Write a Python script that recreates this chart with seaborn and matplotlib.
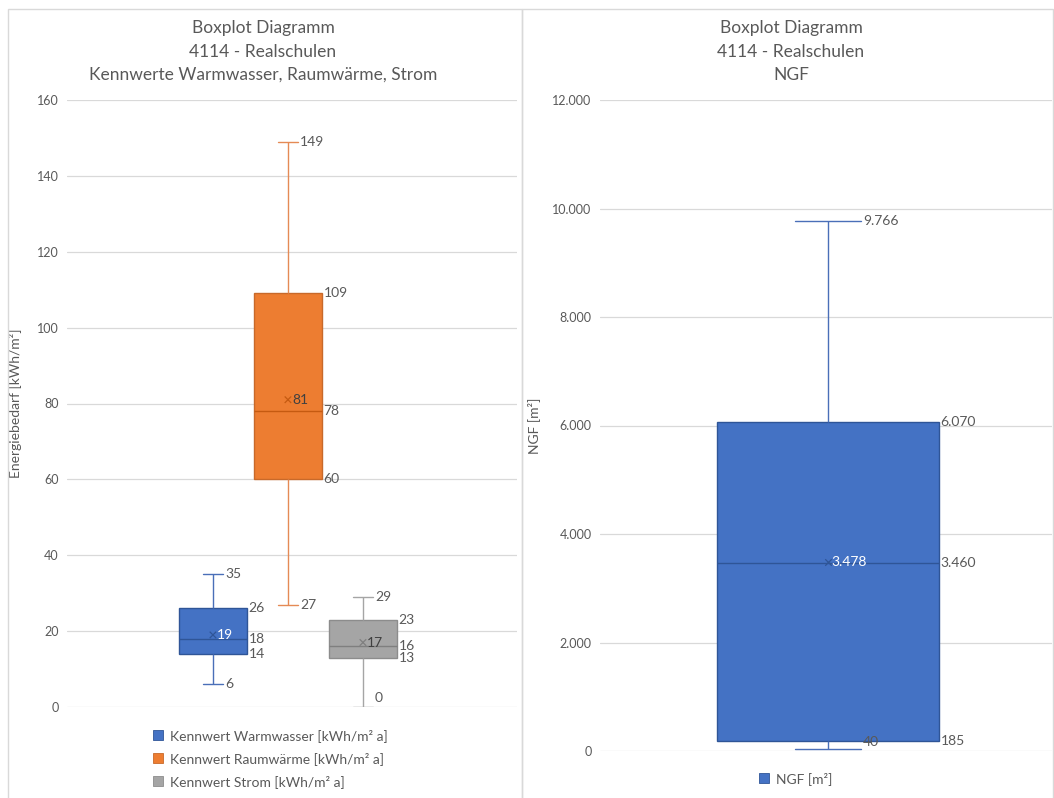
import numpy as np
import pandas as pd
import matplotlib
matplotlib.use("Agg")
import matplotlib.pyplot as plt
import seaborn as sns
from matplotlib.patches import Rectangle
from matplotlib.lines import Line2D

# Kennwerte Warmwasser, Raumwärme, Strom [kWh/m² a]
series = ["Kennwert Warmwasser [kWh/m² a]",
          "Kennwert Raumwärme [kWh/m² a]",
          "Kennwert Strom [kWh/m² a]"]
minimum = [6, 27, 0]
q1 = [14, 60, 13]
median = [18, 78, 16]
q3 = [26, 109, 23]
maximum = [35, 149, 29]
mean = [19, 81, 17]

# Nettogrundfläche [m²]
ngf_series = ["NGF [m²]"]
ngf_min = [40]
ngf_q1 = [185]
ngf_median = [3460]
ngf_q3 = [6070]
ngf_max = [9766]
ngf_mean = [3478]

left_ticks = [0, 20, 40, 60, 80, 100, 120, 140, 160]
right_ticks = [0, 2000, 4000, 6000, 8000, 10000, 12000]

# styling
fills = ["#4472C4", "#ED7D31", "#A5A5A5"]
edges = ["#2F5597", "#C8692A", "#8C8C8C"]
whisker_cols = ["#4A6FB8", "#E58A55", "#A5A5A5"]
median_cols = ["#2F5597", "#C55A11", "#7F7F7F"]
mean_label_cols = ["white", "#404040", "#404040"]
TXT = "#595959"
GRID = "#D9D9D9"
FONT = ["Lato", "DejaVu Sans"]

sns.set_theme(style="white")
plt.rcParams["font.family"] = FONT
plt.rcParams["text.color"] = TXT

W, H = 1054, 798
fig = plt.figure(figsize=(W / 100, H / 100), dpi=100)


def fx(px):
    return px / W


def fy(py):
    return 1 - py / H


def fmt_de(v):
    return f"{v:,.0f}".replace(",", ".")


def five_number_frame(names, mins, lo, med, hi, maxs):
    rows = []
    for name, a, b, c, d, e in zip(names, mins, lo, med, hi, maxs):
        for v in (a, b, c, d, e):
            rows.append({"grp": "", "series": name, "value": v})
    return pd.DataFrame(rows)


def draw_panel(ax, names, mins, lo, med, hi, maxs, means, width, gap,
               ticks, ylabel, number_fmt, xlim, cap_frac=0.3):
    df = five_number_frame(names, mins, lo, med, hi, maxs)
    n = len(names)
    sns.boxplot(data=df, x="grp", y="value", hue="series", hue_order=names,
                palette=fills[:n], whis=(0, 100), width=width, gap=gap,
                linewidth=1, dodge=True, legend=False, ax=ax)
    each = width / n
    centers = [(i - (n - 1) / 2) * each for i in range(n)]
    half_box = each * (1 - gap) / 2
    half_cap = half_box * cap_frac
    for i, cont in enumerate(ax.containers):
        for b in cont.boxes:
            b.set_facecolor(fills[i])
            b.set_edgecolor(edges[i])
            b.set_linewidth(1)
        for m in cont.medians:
            m.set_color(median_cols[i])
            m.set_linewidth(1)
        for w in cont.whiskers:
            w.set_color(whisker_cols[i])
            w.set_linewidth(1)
        for c in cont.caps:
            c.set_color(whisker_cols[i])
            c.set_linewidth(1)
            c.set_xdata([centers[i] - half_cap, centers[i] + half_cap])
    ax.scatter(centers, means, marker="x", s=22, linewidths=0.9,
               color=[median_cols[i] for i in range(n)], zorder=5)

    ymin, ymax = ticks[0], ticks[-1]
    ax.set_ylim(ymin, ymax)
    ax.set_xlim(*xlim)
    ax_h_px = ax.get_position().height * H
    px_per_unit = ax_h_px / (ymax - ymin)

    def put(x, v, color=TXT, dx=2):
        # keep labels inside the plot area near the bottom
        lift_px = max(0.0, 9 - (v - ymin) * px_per_unit)
        ax.annotate(number_fmt(v), (x, v), xytext=(dx * 0.72, lift_px * 0.72),
                    textcoords="offset points", ha="left", va="center",
                    fontsize=10, color=color, zorder=6)

    for i in range(n):
        c = centers[i]
        put(c + half_cap, maxs[i])
        put(c + half_cap, mins[i])
        put(c + half_box, hi[i])
        put(c + half_box, med[i])
        put(c + half_box, lo[i])
        put(c, means[i], color=mean_label_cols[i], dx=4)

    ax.set_yticks(ticks)
    ax.set_yticklabels([number_fmt(t) for t in ticks], fontsize=9, color=TXT)
    ax.tick_params(axis="y", length=0, pad=6)
    ax.set_xticks([])
    ax.set_xlabel("")
    ax.set_ylabel(ylabel, fontsize=10, color=TXT)
    ax.yaxis.grid(True, color=GRID, linewidth=0.9)
    ax.set_axisbelow(True)
    for s in ax.spines.values():
        s.set_visible(False)


# panel frames
fig.patches.append(Rectangle((fx(8), -0.01), fx(514), fy(9) + 0.01,
                             transform=fig.transFigure, fill=False,
                             edgecolor=GRID, linewidth=1))
fig.patches.append(Rectangle((fx(522), -0.01), fx(531), fy(9) + 0.01,
                             transform=fig.transFigure, fill=False,
                             edgecolor=GRID, linewidth=1))

# left panel
ax1 = fig.add_axes([fx(67), fy(707), fx(450), (707 - 100) / H])
draw_panel(ax1, series, minimum, q1, median, q3, maximum, mean,
           width=0.5, gap=0.1, ticks=left_ticks,
           ylabel="Energiebedarf [kWh/m²]", number_fmt=fmt_de,
           xlim=(-0.491, 0.509))
ax1.yaxis.set_label_coords((22 - 67) / 450, 0.5)

# right panel
ax2 = fig.add_axes([fx(600), fy(751), fx(452), (751 - 100) / H])
draw_panel(ax2, ngf_series, ngf_min, ngf_q1, ngf_median, ngf_q3, ngf_max,
           ngf_mean, width=0.49, gap=0.0, ticks=right_ticks,
           ylabel="NGF [m²]", number_fmt=fmt_de, xlim=(-0.504, 0.496))
ax2.yaxis.set_label_coords((540 - 600) / 452, 0.5)

# titles
for xc, lines in ((263, ["Boxplot Diagramm", "4114 - Realschulen",
                         "Kennwerte Warmwasser, Raumwärme, Strom"]),
                  (791, ["Boxplot Diagramm", "4114 - Realschulen", "NGF"])):
    for yc, t in zip((28, 52, 75), lines):
        fig.text(fx(xc), fy(yc), t, ha="center", va="center",
                 fontsize=12.5, color=TXT)

# legends
def legend_handles(names):
    return [Line2D([], [], linestyle="none", marker="s", markersize=7,
                   markerfacecolor=fills[i], markeredgecolor=edges[i],
                   markeredgewidth=0.6, label=nm)
            for i, nm in enumerate(names)]


fig.legend(handles=legend_handles(series), loc="upper left",
           bbox_to_anchor=(fx(153), fy(729)), frameon=False, fontsize=10,
           labelspacing=0.72, handlelength=0.7, handletextpad=0.5,
           borderaxespad=0, borderpad=0, labelcolor=TXT)
fig.legend(handles=legend_handles(ngf_series), loc="upper left",
           bbox_to_anchor=(fx(759), fy(772)), frameon=False, fontsize=10,
           handlelength=0.7, handletextpad=0.5, borderaxespad=0,
           borderpad=0, labelcolor=TXT)

fig.savefig("out.png", dpi=100, facecolor="white")
